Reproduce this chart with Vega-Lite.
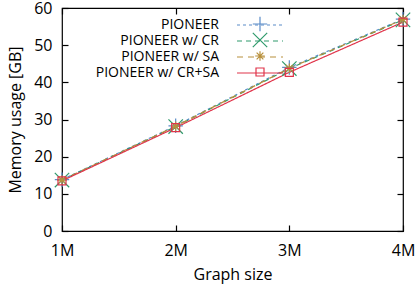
{
  "$schema": "https://vega.github.io/schema/vega-lite/v6.json",
  "width": 341,
  "height": 223,
  "autosize": {"type": "none"},
  "padding": {"left": 62, "top": 8, "right": 12, "bottom": 53},
  "config": {
    "font": "Open Sans",
    "view": {"stroke": "#000000", "strokeWidth": 1.2},
    "axis": {"labelFont": "Open Sans", "titleFont": "Open Sans", "labelFontSize": 16, "titleFontSize": 16, "titleFontWeight": "normal", "labelColor": "#000000", "titleColor": "#000000", "domain": false, "grid": false, "ticks": true, "tickColor": "#000000", "tickWidth": 1.2, "tickSize": -6, "labelPadding": 16},
    "legend": {"labelFont": "Open Sans", "labelColor": "#000000"}
  },
  "data": {"values": [
    {"size": 1, "mem": 13.8, "series": "PIONEER"},
    {"size": 2, "mem": 28.3, "series": "PIONEER"},
    {"size": 3, "mem": 44.0, "series": "PIONEER"},
    {"size": 4, "mem": 57.0, "series": "PIONEER"},
    {"size": 1, "mem": 13.7, "series": "PIONEER w/ CR"},
    {"size": 2, "mem": 28.1, "series": "PIONEER w/ CR"},
    {"size": 3, "mem": 43.7, "series": "PIONEER w/ CR"},
    {"size": 4, "mem": 56.8, "series": "PIONEER w/ CR"},
    {"size": 1, "mem": 13.7, "series": "PIONEER w/ SA"},
    {"size": 2, "mem": 28.2, "series": "PIONEER w/ SA"},
    {"size": 3, "mem": 43.8, "series": "PIONEER w/ SA"},
    {"size": 4, "mem": 56.9, "series": "PIONEER w/ SA"},
    {"size": 1, "mem": 13.5, "series": "PIONEER w/ CR+SA"},
    {"size": 2, "mem": 27.8, "series": "PIONEER w/ CR+SA"},
    {"size": 3, "mem": 42.7, "series": "PIONEER w/ CR+SA"},
    {"size": 4, "mem": 56.2, "series": "PIONEER w/ CR+SA"}
  ]},
  "layer": [
    {
      "mark": {"type": "line", "strokeWidth": 1.2},
      "encoding": {
        "x": {"field": "size", "type": "quantitative", "scale": {"domain": [1, 4], "nice": false},
              "axis": {"values": [1, 2, 3, 4], "labelExpr": "datum.value + 'M'", "title": "Graph size", "titlePadding": 8, "labelPadding": 17, "labelFlush": false}},
        "y": {"field": "mem", "type": "quantitative", "scale": {"domain": [0, 60], "nice": false},
              "axis": {"values": [0, 10, 20, 30, 40, 50, 60], "title": "Memory usage [GB]", "titlePadding": 10}},
        "color": {"field": "series", "type": "nominal",
          "scale": {"range": ["#5a8cc8", "#2f9a6c", "#e0344a", "#b8903c"]},
          "legend": {"orient": "none", "legendX": 189, "legendY": 8, "title": null, "values": ["PIONEER", "PIONEER w/ CR", "PIONEER w/ SA", "PIONEER w/ CR+SA"], "symbolType": "M-2.875,0H2.875", "symbolSize": 256, "symbolStrokeWidth": 1.2, "labelAlign": "right", "labelOffset": -50, "labelFontSize": 14, "rowPadding": 0, "padding": 0}},
        "strokeDash": {"field": "series", "type": "nominal",
          "scale": {"range": [[3, 3], [5, 4], [1, 0], [6, 5]]}}
      }
    },
    {
      "mark": {"type": "point", "filled": false, "strokeWidth": 1.2, "size": 256, "opacity": 1},
      "encoding": {
        "x": {"field": "size", "type": "quantitative", "axis": null},
        "y": {"field": "mem", "type": "quantitative", "axis": null},
        "shape": {"field": "series", "type": "nominal",
          "scale": {"domain": ["PIONEER", "PIONEER w/ CR", "PIONEER w/ SA", "PIONEER w/ CR+SA"], "range": ["M-0.9,0H0.9M0,-0.9V0.9", "M-0.9,-0.9L0.9,0.9M-0.9,0.9L0.9,-0.9", "M-0.6,0H0.6M0,-0.6V0.6M-0.42,-0.42L0.42,0.42M-0.42,0.42L0.42,-0.42", "M-0.5,-0.5H0.5V0.5H-0.5Z"]},
          "legend": {"orient": "none", "legendX": 189, "legendY": 8, "title": null, "symbolSize": 256, "symbolStrokeWidth": 1.2, "symbolFillColor": "transparent", "labelExpr": "''", "labelFontSize": 14, "clipHeight": 16, "rowPadding": 0, "padding": 0}},
        "stroke": {"field": "series", "type": "nominal",
          "scale": {"domain": ["PIONEER", "PIONEER w/ CR", "PIONEER w/ SA", "PIONEER w/ CR+SA"], "range": ["#5a8cc8", "#2f9a6c", "#b8903c", "#e0344a"]}}
      }
    },
    {
      "mark": {"type": "point", "opacity": 0},
      "encoding": {
        "x": {"field": "size", "type": "quantitative", "axis": {"orient": "top", "values": [1, 2, 3, 4], "labels": false, "title": null}},
        "y": {"field": "mem", "type": "quantitative", "axis": {"orient": "right", "values": [0, 10, 20, 30, 40, 50, 60], "labels": false, "title": null}}
      }
    }
  ],
  "resolve": {"axis": {"x": "independent", "y": "independent"}}
}
